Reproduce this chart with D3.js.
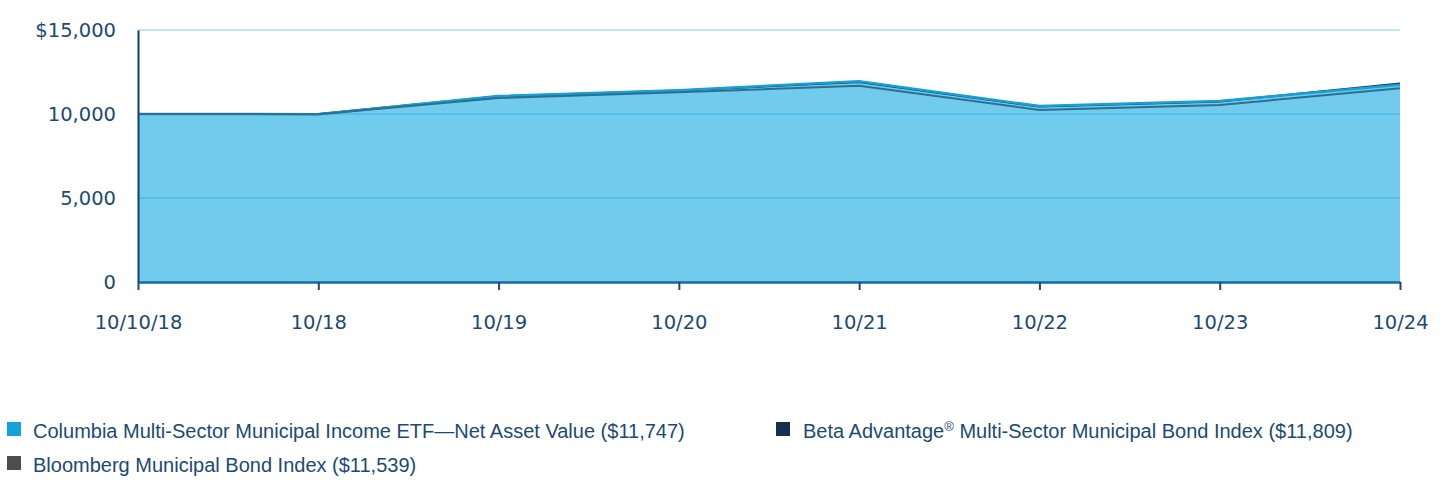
<!DOCTYPE html>
<html><head><meta charset="utf-8">
<script src="https://cdn.jsdelivr.net/npm/d3@7"></script>
<style>body{margin:0;background:#fff}svg{display:block}</style>
</head><body>
<svg id="c" width="1452" height="480"></svg>
<script>
const categories = ["10/10/18","10/18","10/19","10/20","10/21","10/22","10/23","10/24"];
const fundValues = [10000, 9990, 11070, 11420, 11950, 10470, 10770, 11747];
const betaValues = [10000, 9995, 11050, 11400, 11900, 10440, 10740, 11809];
const bloombergValues = [10000, 9990, 10950, 11300, 11680, 10240, 10530, 11539];
const yTicks = [0, 5000, 10000, 15000];
const seriesNames = [
  "Columbia Multi-Sector Municipal Income ETF\u2014Net Asset Value ($11,747)",
  "Beta Advantage",
  "Bloomberg Municipal Bond Index ($11,539)"
];

const svg = d3.select("#c");
const m = {l:138, r:1400, t:30, b:282};
const x = d3.scalePoint().domain(categories).range([m.l, m.r]);
const y = d3.scaleLinear().domain([0,15000]).range([m.b, m.t]);
const navy = "#1b4a74";

svg.append("line").attr("x1",m.l).attr("x2",m.r).attr("y1",y(15000)).attr("y2",y(15000))
  .attr("stroke","#bfe6f8").attr("stroke-width",2);

const area = d3.area().x((d,i)=>x(categories[i])).y0(y(0)).y1(d=>y(d));
svg.append("path").datum(fundValues).attr("d",area).attr("fill","#70cbec");

[5000,10000].forEach(v=>{
  svg.append("line").attr("x1",m.l).attr("x2",m.r).attr("y1",y(v)).attr("y2",y(v))
    .attr("stroke","#55bde8").attr("stroke-width",2);
});

const line = d3.line().x((d,i)=>x(categories[i])).y(d=>y(d));
svg.append("path").datum(betaValues).attr("d",line).attr("fill","none").attr("stroke","#15304f").attr("stroke-width",2);
svg.append("path").datum(fundValues).attr("d",line).attr("fill","none").attr("stroke","#14a1da").attr("stroke-width",2.5);
svg.append("path").datum(bloombergValues).attr("d",line).attr("fill","none").attr("stroke","#2e6f8e").attr("stroke-width",2);

const ya = svg.append("g").attr("transform",`translate(${m.l},0)`)
  .call(d3.axisLeft(y).tickValues(yTicks).tickSize(0).tickPadding(22)
    .tickFormat(d=> d===15000 ? "$15,000" : d3.format(",")(d)));
ya.select(".domain").attr("stroke","#0e3f6b").attr("stroke-width",2);
ya.selectAll("text").attr("fill",navy).style("font-family","DejaVu Sans").style("font-size","19.5px");

const xa = svg.append("g").attr("transform",`translate(0,${m.b})`)
  .call(d3.axisBottom(x).tickSize(8).tickPadding(25).tickSizeOuter(0));
xa.select(".domain").attr("stroke","#1a6a9c").attr("stroke-width",2.5);
xa.selectAll(".tick line").attr("stroke","#1b4a74").attr("stroke-width",2);
xa.selectAll("text").attr("fill",navy).style("font-family","DejaVu Sans").style("font-size","19.5px");

const lf = "Liberation Sans";
const fs = "20px";
function legendItem(xs, yb, color){
  svg.append("rect").attr("x",xs).attr("y",yb-15).attr("width",14).attr("height",14).attr("fill",color);
}
legendItem(7, 437, "#13a2dc");
svg.append("text").attr("x",33).attr("y",438).attr("fill",navy).style("font-family",lf).style("font-size",fs)
  .text(seriesNames[0]);
legendItem(7, 471, "#4d4d4d");
svg.append("text").attr("x",33).attr("y",472).attr("fill",navy).style("font-family",lf).style("font-size",fs)
  .text(seriesNames[2]);
legendItem(776, 437, "#15304f");
const t = svg.append("text").attr("x",803).attr("y",438).attr("fill",navy).style("font-family",lf).style("font-size",fs);
t.append("tspan").text(seriesNames[1]);
t.append("tspan").attr("dy",-7).style("font-size","13px").text("\u00AE");
t.append("tspan").attr("dy",7).text(" Multi-Sector Municipal Bond Index ($11,809)");
</script>
</body></html>
